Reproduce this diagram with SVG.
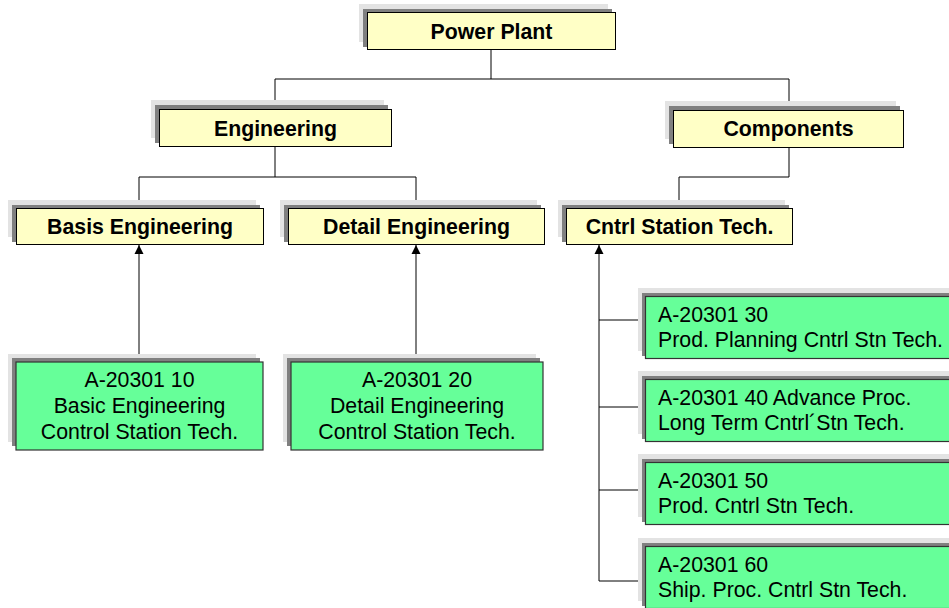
<svg xmlns="http://www.w3.org/2000/svg" width="949" height="608" viewBox="0 0 949 608">
<defs>
<style>
.sh1{fill:#e3e3e3}
.sh2{fill:#808080}
.y{fill:#ffffc6;stroke:#000;stroke-width:1}
.g{fill:#66ff99;stroke:#333;stroke-width:1.2}
.tb{font-family:"Liberation Sans",Arial,sans-serif;font-weight:bold;font-size:21.3px;fill:#000;text-anchor:middle}
.tg{font-family:"Liberation Sans",Arial,sans-serif;font-size:21.3px;fill:#000}
.c{text-anchor:middle}
.ln{fill:none;stroke:#000;stroke-width:1}
</style>
<marker id="ah" markerWidth="10" markerHeight="10" refX="9" refY="5" orient="auto" markerUnits="userSpaceOnUse">
<path d="M0,0.5 L9,5 L0,9.5 Z" fill="#000"/>
</marker>
</defs>
<rect width="949" height="608" fill="#fff"/>
<g id="connectors">
<path class="ln" d="M491,49 V79 M275,79 H789 M275,79 V108 M789,79 V110"/>
<path class="ln" d="M275,147 V177 M139,177 H416 M139,177 V208 M416,177 V208"/>
<path class="ln" d="M789,147 V177 H679 V208"/>
<path class="ln" d="M139,362 V245" marker-end="url(#ah)"/>
<path class="ln" d="M416,362 V245" marker-end="url(#ah)"/>
<path class="ln" d="M639,581 H599 V245" marker-end="url(#ah)"/>
<path class="ln" d="M599,320 H639 M599,407 H639 M599,490 H639"/>
</g>
<g id="power-plant">
<rect class="sh1" x="359" y="4" width="249" height="38"/>
<rect class="sh2" x="363" y="9" width="249" height="38"/>
<rect class="y" x="367.5" y="12.5" width="248" height="37"/>
<text class="tb" x="491.5" y="39">Power Plant</text>
</g>
<g id="engineering">
<rect class="sh1" x="151" y="100" width="233" height="38"/>
<rect class="sh2" x="155" y="105" width="233" height="38"/>
<rect class="y" x="159.5" y="109.5" width="232" height="37"/>
<text class="tb" x="275.5" y="136">Engineering</text>
</g>
<g id="components">
<rect class="sh1" x="665" y="101" width="231" height="38"/>
<rect class="sh2" x="669" y="106" width="231" height="38"/>
<rect class="y" x="673.5" y="110.5" width="230" height="37"/>
<text class="tb" x="788.5" y="136">Components</text>
</g>
<g id="basis-engineering">
<rect class="sh1" x="8" y="200" width="248" height="37"/>
<rect class="sh2" x="12" y="205" width="248" height="37"/>
<rect class="y" x="16.5" y="208.5" width="247" height="36"/>
<text class="tb" x="140" y="234">Basis Engineering</text>
</g>
<g id="detail-engineering">
<rect class="sh1" x="280" y="200" width="257" height="37"/>
<rect class="sh2" x="284" y="205" width="257" height="37"/>
<rect class="y" x="288.5" y="208.5" width="256" height="36"/>
<text class="tb" x="416.5" y="234">Detail Engineering</text>
</g>
<g id="cntrl-station-tech">
<rect class="sh1" x="558" y="200" width="227" height="37"/>
<rect class="sh2" x="562" y="205" width="227" height="37"/>
<rect class="y" x="566.5" y="208.5" width="226" height="36"/>
<text class="tb" x="679.5" y="234">Cntrl Station Tech.</text>
</g>
<g id="a-20301-10">
<rect class="sh1" x="8" y="354" width="248" height="88"/>
<rect class="sh2" x="12" y="358" width="248" height="88"/>
<rect class="g" x="16" y="362" width="247" height="88"/>
<text class="tg c" x="139.5"><tspan x="139.5" y="387">A-20301 10</tspan><tspan x="139.5" y="413">Basic Engineering</tspan><tspan x="139.5" y="439">Control Station Tech.</tspan></text>
</g>
<g id="a-20301-20">
<rect class="sh1" x="283" y="354" width="253" height="88"/>
<rect class="sh2" x="287" y="358" width="253" height="88"/>
<rect class="g" x="291" y="362" width="252" height="88"/>
<text class="tg c" x="417"><tspan x="417" y="387">A-20301 20</tspan><tspan x="417" y="413">Detail Engineering</tspan><tspan x="417" y="439">Control Station Tech.</tspan></text>
</g>
<g id="a-20301-30">
<rect class="sh1" x="638" y="288" width="330" height="63"/>
<rect class="sh2" x="642" y="293" width="330" height="63"/>
<rect class="g" x="645.5" y="296.5" width="330" height="62"/>
<text class="tg"><tspan x="658" y="322">A-20301 30</tspan><tspan x="658" y="347">Prod. Planning Cntrl Stn Tech.</tspan></text>
</g>
<g id="a-20301-40">
<rect class="sh1" x="638" y="371" width="330" height="63"/>
<rect class="sh2" x="642" y="376" width="330" height="63"/>
<rect class="g" x="645.5" y="379.5" width="330" height="62"/>
<text class="tg"><tspan x="658" y="405">A-20301 40 Advance Proc.</tspan><tspan x="658" y="430">Long Term Cntrl´Stn Tech.</tspan></text>
</g>
<g id="a-20301-50">
<rect class="sh1" x="638" y="454" width="330" height="63"/>
<rect class="sh2" x="642" y="459" width="330" height="63"/>
<rect class="g" x="645.5" y="462.5" width="330" height="62"/>
<text class="tg"><tspan x="658" y="488">A-20301 50</tspan><tspan x="658" y="513">Prod. Cntrl Stn Tech.</tspan></text>
</g>
<g id="a-20301-60">
<rect class="sh1" x="638" y="538" width="330" height="63"/>
<rect class="sh2" x="642" y="543" width="330" height="63"/>
<rect class="g" x="645.5" y="546.5" width="330" height="62"/>
<text class="tg"><tspan x="658" y="572">A-20301 60</tspan><tspan x="658" y="597">Ship. Proc. Cntrl Stn Tech.</tspan></text>
</g>
</svg>
